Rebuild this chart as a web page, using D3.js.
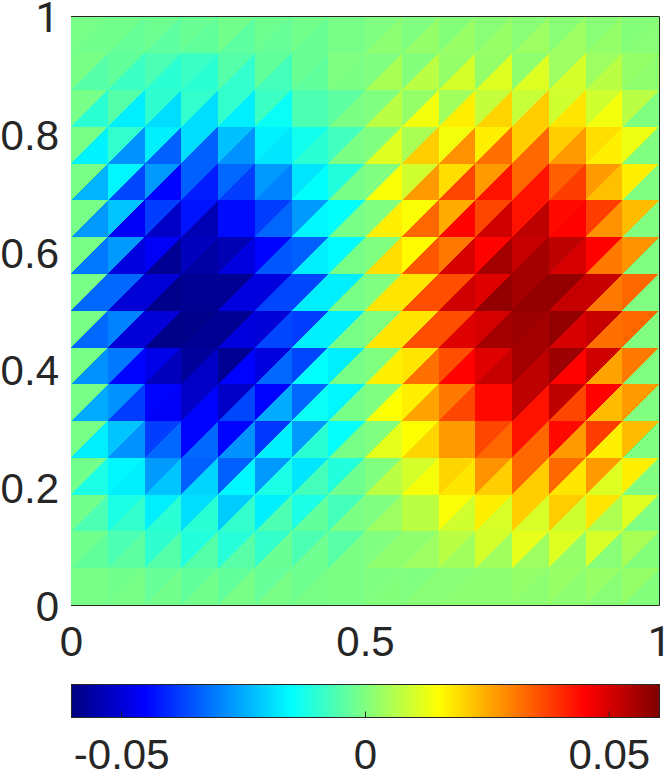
<!DOCTYPE html>
<html><head><meta charset="utf-8">
<script src="https://cdn.jsdelivr.net/npm/d3@7"></script>
<style>html,body{margin:0;padding:0;background:#fff;overflow:hidden}svg{display:block}</style>
</head><body><div id="chart"></div>
<script>
// Values in thousandths. Rows run top to bottom, columns left to right.
const upperLeft = [
[-1,-1.5,-2,-2.5,-1.5,-2,-1.5,-1, 0,0,0.5,1,1,1,1,0.5],
[-1,-3.5,-6,-8,-5,-3.5,-2.5,0, 0,0.5,2.5,2.5,2,3.5,3.5,2.5],
[-1,-5,-9.5,-9,-9,-8,-6,-4, 0,2.5,4,8,8.5,9.5,9.5,7],
[-1,-9,-17,-19,-22.5,-16.5,-13,-7.5, 0,5,13.5,17,21,21,19,13],
[-1,-16,-27,-34,-33,-27,-18,-11, 0,9.5,19,27,33,34,27,17],
[-1,-22,-38,-43,-44,-38,-27,-15, 0,14.5,25,37,43,44,38,23],
[-1,-27,-46,-53,-54,-45,-34,-15.5, 0,15.5,31,45,52,53,45,28],
[-1,-33,-50,-58,-58,-49,-37,-17, 0,18,36,49,56,58,52,33],
[-1,-30,-50,-59,-58,-50,-38,-17, 0,18,36,50,57,58,52,33],
[-1,-31,-48,-57,-58,-49,-37,-17, 0,18,36,49,56,57,51,31],
[-1,-28,-45,-52,-52,-45,-33,-16, 0,17,31,44,53,53,45,27],
[-1,-22,-38,-45,-45,-39,-27,-14.5, 0,15,27,37,43,44,38,23],
[-1.5,-16,-27,-34,-34,-27,-18,-11, 0,10,20,28,33,33,27,17],
[-1.5,-12,-17,-19,-21,-17,-12,-7, 0,7,14.5,17,21,21,18,11],
[-1.5,-6,-9.5,-11,-10.5,-9,-6,-4.5, 0,2,7,10,12,11,10.5,5],
[-1,-1.5,-3,-3.5,-3.5,-3,-2,-0.5, 0,0,1,1.5,2.5,3,3,2.5]
];
const lowerRight = [
[-1.5,-3,-4,-3.5,-4,-3,-2.5,-1, 1.5,2.5,3,3,3.5,3.5,2.5,1],
[-5,-8,-10,-10,-9,-7,-3.5,-0.5, 5,7,10,11,11,10,7,2],
[-10,-17,-19,-19,-17,-14,-6,-0.5, 7,13.5,17,20,21,18,13.5,0],
[-16.5,-28,-34,-34,-28,-18,-10,-0.5, 11,21,28,32,33,27,17,0],
[-24,-37,-45,-42,-38,-30,-15,-1, 14.5,27,37,43,43,38,22.5,0],
[-27,-46,-52,-54,-44,-33,-16,-1, 17,33,45,51,53,45,28,0],
[-31,-49,-58,-56,-49,-35,-17,-1, 19,35,50,56,56,50,31,0],
[-33,-50,-59,-58,-49,-37,-17,-1, 18,36,51,58,58,52,31,0],
[-33,-50,-59.5,-58,-49,-37,-17,-1, 18,36,49,56,56,50,32,0],
[-28,-45,-53,-52,-45,-33,-15,-1, 17,32,45,52,53,45,26,0],
[-25,-38,-46,-45,-37,-25,-14,-1, 15,26,37,44,43,37,23,0],
[-17,-28,-33,-33,-28,-17,-10,-1, 12,20,27,33,33,27,17,0],
[-12,-17,-22,-20,-16,-12,-7,-2, 7,14,18,21,21,18,11,0],
[-6,-9,-10,-10,-9,-6,-3.5,-0.5, 3.5,7,9.5,10.5,10.5,9.5,5.5,0],
[-3.5,-4,-5,-5,-4.5,-2.5,-2,-0.5, 2,3.5,4,4,3.5,2.5,1,0.5],
[-1,-1,-1.5,-1.5,-1,-1,-1,-0.5, 0.5,1,1.5,1.5,1.5,1.5,1,0.5]
];
const xTicks = [0, 0.5, 1];
const yTicks = [0, 0.2, 0.4, 0.6, 0.8, 1];
const barTicks = [-0.05, 0, 0.05];
const valueLimit = 0.0603;
const jetStops = [0, 0.125, 0.375, 0.625, 0.875, 1];
const jetColors = ["#000080", "#0000ff", "#00ffff", "#ffff00", "#ff0000", "#800000"];

const W = 665, H = 772, frame = "#262626";
const x = d3.scaleLinear().domain([0, 1]).range([71, 659]);
const y = d3.scaleLinear().domain([0, 1]).range([605, 16.5]);
const tScale = d3.scaleLinear().domain([-valueLimit, valueLimit]).range([0, 1]);
const jet = d3.scaleLinear().domain(jetStops).range(jetColors).interpolate(d3.interpolateRgb);
const color = v => jet(tScale(v));

const svg = d3.select("#chart").append("svg").attr("width", W).attr("height", H);

const cols = upperLeft[0].length, rows = upperLeft.length;
const tris = [];
upperLeft.forEach((row, r) => row.forEach((v, c) => {
  tris.push({r, c, kind: "U", v: v / 1000});
  tris.push({r, c, kind: "L", v: lowerRight[r][c] / 1000});
}));
const path = d => {
  const x0 = x(d.c / cols), x1 = x((d.c + 1) / cols);
  const y0 = y(1 - d.r / rows), y1 = y(1 - (d.r + 1) / rows);
  const pts = d.kind === "U" ? [[x0, y1], [x0, y0], [x1, y0]] : [[x0, y1], [x1, y0], [x1, y1]];
  return "M" + pts.join("L") + "Z";
};
svg.append("g").selectAll("path").data(tris).join("path")
  .attr("d", path).attr("fill", d => color(d.v)).attr("shape-rendering", "crispEdges");

// Main axes
const fmt = d => String(d);
const gx = svg.append("g").attr("transform", "translate(0,605.5)")
  .call(d3.axisBottom(x).tickValues(xTicks).tickSize(0).tickPadding(21).tickFormat(fmt));
gx.select(".domain").attr("stroke", frame).attr("stroke-width", 1).attr("fill", "none").attr("d", "M71,0H659.5");
const gy = svg.append("g").attr("transform", "translate(71,0)")
  .call(d3.axisLeft(y).tickValues(yTicks).tickSize(0).tickPadding(12).tickFormat(fmt));
gy.select(".domain").remove();
gy.selectAll("text").attr("dy", "0.365em");
svg.append("path").attr("d", "M71,16.5H659.5V605.5").attr("fill", "none").attr("stroke", frame);

// Colour bar
const barTop = 684, barBottom = 717;
const bar = d3.scaleLinear().domain([-valueLimit, valueLimit]).range([71, 659]);
const grad = svg.append("defs").append("linearGradient").attr("id", "jetGrad");
grad.selectAll("stop").data(jetStops).join("stop")
  .attr("offset", d => d).attr("stop-color", (d, i) => jetColors[i]);
svg.append("rect").attr("x", 71).attr("y", barTop).attr("width", 588).attr("height", barBottom - barTop)
  .attr("fill", "url(#jetGrad)");
const gb = svg.append("g").attr("transform", `translate(0,${barBottom + 0.5})`)
  .call(d3.axisBottom(bar).tickValues(barTicks).tickSize(-6).tickPadding(22).tickFormat(fmt));
gb.select(".domain").remove();
gb.selectAll("line").attr("stroke", frame).attr("stroke-width", 1);
svg.append("rect").attr("x", 71.5).attr("y", barTop + 0.5).attr("width", 588).attr("height", barBottom - barTop)
  .attr("fill", "none").attr("stroke", frame);
svg.selectAll(".tick text").attr("fill", frame).style("font-size", "42px")
  .style("font-family", d => d === 1 ? 'Roboto,"Liberation Sans",sans-serif' : '"Liberation Sans",Arial,sans-serif');
</script></body></html>
